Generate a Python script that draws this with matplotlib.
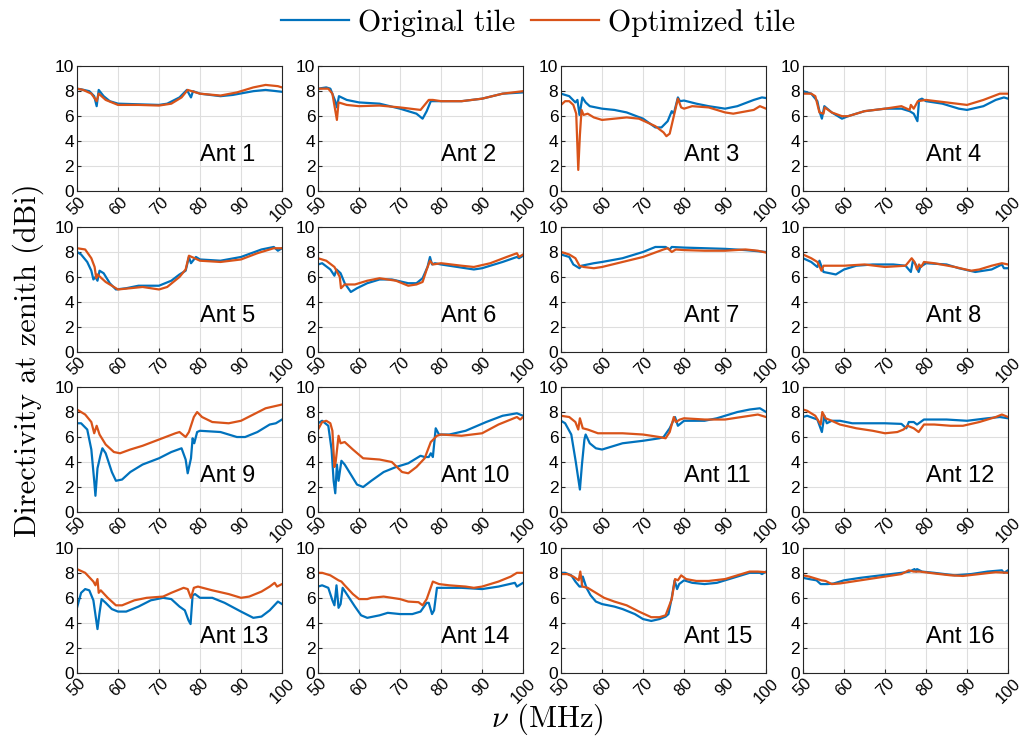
import matplotlib
matplotlib.use("Agg")
import matplotlib.pyplot as plt
from matplotlib.transforms import ScaledTranslation

plt.rcParams['font.family'] = ['Liberation Sans', 'DejaVu Sans']
plt.rcParams['mathtext.fontset'] = 'cm'

# (frequency MHz, directivity dBi)
orig_01 = [(50, 8.2), (51, 8.15), (53, 8.0), (54.2, 7.6), (54.8, 6.8), (55.3, 8.1), (56.5, 7.6), (58, 7.2), (60, 7.0), (65, 6.95), (70, 6.9), (72, 7.0), (75, 7.5), (76.8, 8.1), (77.8, 7.5), (78.3, 8.0), (80, 7.8), (85, 7.6), (88, 7.7), (93, 8.0), (96, 8.1), (100, 7.95)]
opt_01 = [(50, 8.2), (51.5, 8.1), (53.5, 7.8), (54.8, 7.2), (55.3, 7.8), (57, 7.3), (60, 6.9), (65, 6.9), (70, 6.85), (73, 7.0), (75.5, 7.5), (77, 8.1), (78, 8.0), (80, 7.8), (85, 7.65), (89, 7.9), (93, 8.3), (96, 8.5), (99, 8.4), (100, 8.3)]
orig_02 = [(50, 8.2), (52, 8.3), (53, 8.2), (54.2, 7.2), (54.6, 6.7), (55.1, 7.6), (57, 7.3), (60, 7.1), (65, 7.0), (70, 6.6), (74, 6.2), (75.5, 5.8), (76.5, 6.4), (77.5, 7.2), (80, 7.2), (85, 7.2), (90, 7.4), (95, 7.8), (100, 7.9)]
opt_02 = [(50, 8.2), (52.5, 8.2), (53.5, 7.8), (54.6, 5.7), (55, 7.1), (57, 6.9), (60, 6.8), (65, 6.85), (70, 6.7), (75, 6.5), (77, 7.3), (78, 7.3), (80, 7.2), (85, 7.2), (90, 7.4), (95, 7.8), (100, 8.0)]
orig_03 = [(50, 7.8), (52, 7.6), (53.5, 7.1), (54, 7.3), (54.5, 6.1), (55.2, 7.5), (56, 7.1), (57, 6.8), (60, 6.6), (63, 6.5), (66, 6.3), (70, 5.8), (73, 5.1), (74.5, 5.1), (76, 5.6), (77, 6.4), (77.5, 6.2), (78.5, 7.5), (79, 7.2), (80, 7.25), (83, 7.0), (86, 6.8), (90, 6.6), (93, 6.8), (97, 7.3), (99, 7.5), (100, 7.45)]
opt_03 = [(50, 6.9), (51, 7.2), (52, 7.2), (53, 6.9), (53.7, 6.2), (54.2, 1.7), (54.6, 4.5), (55, 6.5), (55.5, 6.1), (56.5, 6.2), (58, 5.9), (60, 5.7), (63, 5.8), (66, 5.9), (69, 5.8), (73, 5.2), (75, 4.7), (75.7, 4.4), (76.5, 4.6), (77.5, 6.0), (78.5, 7.4), (79.3, 6.7), (80, 6.6), (82, 6.8), (86, 6.7), (90, 6.3), (92, 6.2), (97, 6.5), (98.5, 6.8), (100, 6.6)]
orig_04 = [(50, 8.0), (52, 7.8), (53.5, 7.2), (54, 6.4), (54.6, 5.8), (55.2, 6.8), (57, 6.3), (59.5, 5.8), (61, 6.0), (65, 6.4), (70, 6.6), (74, 6.6), (76, 6.4), (77, 6.2), (77.9, 5.6), (78.3, 7.3), (79, 7.4), (80, 7.2), (84, 7.0), (88, 6.6), (90, 6.5), (94, 6.8), (97, 7.3), (99, 7.5), (100, 7.4)]
opt_04 = [(50, 7.8), (52, 7.8), (53, 7.6), (54, 6.3), (55, 6.2), (55.3, 6.7), (57, 6.3), (59.5, 6.0), (61, 6.0), (65, 6.4), (70, 6.6), (74, 6.8), (76, 6.5), (76.3, 6.9), (77, 6.6), (78, 7.2), (80, 7.3), (85, 7.1), (90, 6.9), (94, 7.3), (98, 7.8), (100, 7.8)]
orig_05 = [(50, 8.0), (51, 7.8), (52.5, 7.2), (53.5, 6.5), (54, 5.8), (54.5, 6.0), (55, 5.7), (55.5, 6.5), (56.5, 6.3), (58, 5.5), (59.5, 5.0), (62, 5.1), (65, 5.3), (70, 5.3), (73, 5.7), (75, 6.2), (76.5, 6.5), (77.3, 7.6), (77.8, 7.1), (79, 7.6), (80, 7.4), (85, 7.3), (90, 7.6), (95, 8.2), (98, 8.4), (99, 8.1), (100, 8.3)]
opt_05 = [(50, 8.3), (52, 8.2), (53.5, 7.5), (54.3, 6.8), (54.7, 5.9), (55, 6.2), (57, 5.6), (59, 5.2), (60, 5.0), (63, 5.1), (66, 5.2), (70, 5.0), (72, 5.2), (75, 6.0), (76.5, 6.6), (77.3, 7.7), (78, 7.6), (80, 7.3), (85, 7.2), (90, 7.4), (94, 7.9), (98, 8.3), (100, 8.3)]
orig_06 = [(50, 7.0), (51, 7.1), (53, 6.6), (54, 6.1), (54.5, 6.6), (55.5, 6.3), (56.5, 5.5), (58, 4.8), (59.5, 5.1), (62, 5.5), (65, 5.8), (68, 5.8), (72, 5.5), (74, 5.5), (75.5, 5.9), (76.7, 6.8), (77.3, 7.6), (77.8, 7.0), (78.5, 7.1), (80, 7.0), (84, 6.8), (88, 6.6), (90, 6.7), (95, 7.2), (98.5, 7.6), (99, 7.5), (100, 7.7)]
opt_06 = [(50, 7.5), (52, 7.3), (54, 6.8), (55.3, 6.0), (55.6, 5.1), (56.5, 5.4), (59, 5.4), (62, 5.7), (65, 5.9), (69, 5.7), (72, 5.3), (74, 5.4), (75.5, 5.6), (76.5, 6.6), (77.3, 7.3), (78, 7.0), (80, 7.1), (85, 6.9), (88, 6.8), (92, 7.1), (96, 7.6), (98.5, 7.9), (99, 7.6), (100, 7.8)]
orig_07 = [(50, 7.8), (52, 7.6), (53, 7.0), (54.5, 6.7), (55, 6.9), (58, 7.1), (60, 7.2), (65, 7.5), (70, 8.0), (73, 8.4), (75.5, 8.4), (76.5, 8.2), (77, 8.4), (80, 8.35), (85, 8.3), (90, 8.25), (95, 8.15), (100, 8.0)]
opt_07 = [(50, 8.0), (52, 7.8), (53.5, 7.5), (54.5, 6.9), (55.5, 6.8), (58, 6.7), (60, 6.8), (65, 7.2), (70, 7.6), (75, 8.2), (76, 8.3), (77, 8.0), (78, 8.2), (80, 8.15), (85, 8.1), (90, 8.1), (95, 8.2), (98, 8.1), (100, 7.95)]
orig_08 = [(50, 7.5), (52, 7.2), (53.5, 6.8), (54, 7.3), (55, 6.4), (56.5, 6.3), (58, 6.2), (60, 6.6), (63, 6.9), (67, 7.0), (72, 7.0), (75, 6.9), (76.3, 6.4), (76.8, 7.3), (77.5, 7.0), (78.2, 6.4), (78.6, 6.8), (80, 7.1), (85, 7.0), (88, 6.7), (92, 6.4), (96, 6.6), (98.5, 7.0), (99, 6.7), (100, 6.7)]
opt_08 = [(50, 7.8), (52, 7.5), (53.5, 7.2), (54.5, 6.5), (55, 6.9), (60, 6.9), (65, 7.0), (70, 6.8), (75, 6.9), (76.5, 7.5), (77.2, 7.2), (77.8, 6.6), (78.3, 7.0), (78.8, 6.8), (79.5, 7.2), (82, 7.1), (87, 6.8), (91, 6.5), (93, 6.6), (96, 6.9), (98.5, 7.1), (100, 7.0)]
orig_09 = [(50, 7.1), (51, 7.1), (52.5, 6.6), (53.5, 5.0), (54.2, 2.5), (54.5, 1.3), (55, 3.5), (55.7, 4.5), (56.2, 5.1), (57, 4.7), (58.5, 3.2), (59.5, 2.5), (61, 2.6), (63, 3.2), (66, 3.8), (70, 4.3), (73, 4.8), (75.5, 5.1), (76.5, 4.2), (77, 3.1), (77.8, 4.3), (78.2, 5.9), (78.6, 5.5), (79.3, 6.4), (80, 6.5), (85, 6.4), (89, 6.0), (91, 6.0), (94, 6.4), (97, 7.0), (98.5, 7.1), (100, 7.4)]
opt_09 = [(50, 8.2), (52, 7.8), (53.5, 7.2), (54.2, 6.3), (54.8, 6.9), (55.5, 6.2), (57, 5.4), (59, 4.8), (60.5, 4.7), (63, 5.0), (66, 5.3), (70, 5.8), (74, 6.3), (75, 6.4), (76.5, 6.0), (77.3, 6.4), (78.5, 7.6), (79.3, 8.0), (80.5, 7.6), (83, 7.2), (87, 7.1), (90, 7.3), (93, 7.8), (96, 8.3), (100, 8.6)]
orig_10 = [(50, 7.1), (51, 7.3), (52.5, 6.9), (53.3, 5.0), (53.8, 2.5), (54.2, 1.5), (54.6, 3.8), (55, 2.5), (55.7, 4.1), (56.5, 3.8), (58, 3.0), (59.5, 2.2), (61, 2.0), (63, 2.5), (66, 3.2), (69, 3.6), (72, 3.9), (75, 4.5), (76, 4.4), (77, 4.4), (77.5, 4.7), (78, 4.4), (78.7, 6.7), (79.5, 6.2), (82, 6.2), (86, 6.5), (91, 7.2), (95, 7.7), (98.5, 7.9), (100, 7.7)]
opt_10 = [(50, 6.6), (51, 7.2), (52, 7.3), (53, 7.1), (53.5, 6.5), (54, 3.6), (54.3, 4.0), (55, 6.1), (55.5, 5.5), (56.5, 5.6), (58.5, 5.0), (61, 4.3), (65, 4.2), (68, 4.0), (70.5, 3.2), (72, 3.1), (74, 3.6), (76, 4.3), (77.5, 5.6), (79, 6.1), (80, 6.2), (85, 6.1), (90, 6.3), (94, 7.0), (98.5, 7.6), (99.3, 7.4), (100, 7.6)]
orig_11 = [(50, 7.3), (51, 7.1), (52.5, 6.2), (53.6, 4.0), (54.6, 1.8), (55.1, 3.8), (55.7, 5.8), (56, 6.2), (57, 5.5), (58.5, 5.1), (60, 5.0), (62, 5.2), (65, 5.5), (70, 5.7), (74, 5.9), (75, 6.0), (76.5, 6.7), (77.8, 7.6), (78.5, 6.9), (80, 7.3), (85, 7.3), (88, 7.5), (93, 8.0), (96, 8.2), (98.5, 8.3), (100, 8.0)]
opt_11 = [(50, 7.7), (52, 7.6), (53.5, 7.2), (54.2, 6.6), (54.6, 7.5), (55.3, 6.7), (56.5, 6.6), (59, 6.3), (62, 6.3), (65, 6.3), (70, 6.2), (74, 6.0), (75.5, 5.9), (76.5, 6.4), (77.5, 7.6), (78, 7.2), (79, 7.4), (80, 7.5), (85, 7.4), (90, 7.4), (96, 7.7), (98, 7.8), (100, 7.6)]
orig_12 = [(50, 7.6), (51, 7.7), (53.5, 7.4), (54.6, 6.4), (55.2, 7.7), (55.8, 7.1), (57, 7.3), (59, 7.3), (62, 7.1), (70, 7.1), (74, 7.05), (75.2, 6.7), (75.8, 7.2), (77, 7.2), (77.8, 7.0), (79.5, 7.4), (85, 7.4), (90, 7.3), (95, 7.5), (98, 7.6), (100, 7.5)]
opt_12 = [(50, 8.2), (51, 8.1), (53, 7.7), (54.3, 7.0), (54.7, 8.0), (55.5, 7.5), (57, 7.3), (59, 7.0), (63, 6.7), (67, 6.5), (70, 6.3), (73, 6.4), (74.5, 6.6), (75.5, 6.9), (77, 6.7), (78.2, 6.4), (79.5, 7.0), (82, 7.0), (86, 6.9), (89, 6.9), (93, 7.2), (97, 7.6), (98.5, 7.8), (100, 7.6)]
orig_13 = [(50, 5.2), (51, 6.4), (52, 6.7), (53, 6.6), (54, 5.8), (55, 3.5), (55.5, 4.8), (56, 5.9), (57, 5.6), (58.5, 5.1), (60, 4.9), (62, 4.9), (65, 5.3), (68, 5.8), (71, 6.0), (73, 5.9), (75, 5.3), (76.3, 5.0), (77.2, 4.2), (77.7, 3.9), (78.2, 6.2), (78.8, 6.3), (80, 6.0), (83, 6.0), (86, 5.6), (90, 4.9), (93, 4.4), (95, 4.5), (97, 5.0), (99, 5.7), (100, 5.5)]
opt_13 = [(50, 8.3), (52, 8.0), (54, 7.3), (54.5, 7.0), (55, 7.5), (55.3, 6.4), (55.8, 6.6), (57.5, 6.0), (59.5, 5.4), (61, 5.4), (64, 5.8), (67, 6.0), (71, 6.1), (73, 6.4), (76, 6.8), (77, 6.7), (77.8, 6.0), (78.5, 6.8), (79.5, 6.9), (83, 6.6), (87, 6.3), (90, 6.0), (92, 6.1), (95, 6.5), (97, 6.9), (98.2, 7.2), (98.8, 6.9), (100, 7.1)]
orig_14 = [(50, 6.9), (51, 7.0), (52.5, 6.8), (53.5, 5.8), (54, 5.4), (54.5, 7.0), (55, 5.2), (55.5, 5.5), (56, 6.8), (57, 6.3), (59, 5.3), (60.5, 4.6), (62, 4.4), (65, 4.6), (67, 4.8), (70, 4.7), (73, 4.7), (75, 4.9), (76.5, 5.6), (77, 5.6), (77.8, 4.7), (78.3, 5.0), (79, 6.8), (82, 6.8), (85, 6.8), (90, 6.7), (94, 6.9), (98, 7.2), (98.5, 6.9), (100, 7.2)]
opt_14 = [(50, 8.0), (51, 8.0), (53, 7.8), (55, 7.4), (55.7, 7.3), (56.5, 7.0), (58.5, 6.3), (60, 5.9), (62, 5.9), (63, 6.0), (66, 6.1), (70, 5.9), (72, 5.7), (74.5, 5.65), (75.5, 5.4), (76.5, 5.9), (78, 7.3), (79.5, 7.1), (82, 7.0), (86, 6.9), (88, 6.8), (90, 6.9), (94, 7.3), (97, 7.7), (98.5, 8.0), (100, 8.0)]
orig_15 = [(50, 8.0), (51, 8.0), (52.5, 7.8), (53.5, 7.3), (54.5, 6.9), (55, 6.9), (55.3, 7.7), (56.2, 6.8), (57.2, 6.2), (58.5, 5.7), (60, 5.5), (63, 5.3), (65, 5.1), (68, 4.7), (70, 4.3), (72, 4.15), (74, 4.3), (75.5, 4.5), (76.2, 4.7), (77, 6.0), (77.7, 7.4), (78.3, 6.7), (78.8, 7.1), (80, 7.4), (82, 7.2), (85, 7.1), (88, 7.2), (92, 7.6), (96, 8.0), (98.5, 8.0), (99, 7.9), (100, 8.1)]
opt_15 = [(50, 7.9), (51.5, 7.9), (53, 7.7), (54.3, 7.4), (54.7, 8.1), (55.2, 6.9), (56.5, 6.8), (58.5, 6.4), (60.5, 6.0), (63, 5.7), (66, 5.4), (69, 4.9), (72, 4.45), (74, 4.45), (75.5, 4.6), (77, 5.9), (77.8, 7.5), (78.5, 7.4), (79.3, 7.8), (80.5, 7.5), (83, 7.35), (86, 7.35), (90, 7.5), (93, 7.8), (96, 8.1), (98, 8.1), (100, 8.05)]
orig_16 = [(50, 7.6), (51.5, 7.5), (53.3, 7.4), (54.3, 7.1), (56, 7.1), (57.5, 7.15), (60, 7.4), (64, 7.6), (69, 7.8), (74, 8.0), (76, 8.1), (77.2, 8.3), (77.6, 8.1), (77.8, 8.3), (79, 8.1), (82, 8.0), (87, 7.8), (91, 7.9), (95, 8.1), (98.5, 8.2), (99, 8.0), (100, 8.2)]
opt_16 = [(50, 7.8), (51.5, 7.7), (53.5, 7.5), (54.5, 7.4), (55.5, 7.35), (57, 7.1), (59, 7.15), (62, 7.3), (66, 7.5), (70, 7.7), (74, 7.9), (75.8, 8.2), (77, 8.1), (78.5, 8.1), (82, 7.95), (86, 7.8), (89, 7.75), (93, 7.9), (97, 8.05), (100, 8.0)]

originals = [orig_01, orig_02, orig_03, orig_04, orig_05, orig_06, orig_07, orig_08,
             orig_09, orig_10, orig_11, orig_12, orig_13, orig_14, orig_15, orig_16]
optimized = [opt_01, opt_02, opt_03, opt_04, opt_05, opt_06, opt_07, opt_08,
             opt_09, opt_10, opt_11, opt_12, opt_13, opt_14, opt_15, opt_16]
ant_labels = ['Ant %d' % (i + 1) for i in range(16)]
x_ticks = [50, 60, 70, 80, 90, 100]
y_ticks = [0, 2, 4, 6, 8, 10]

blue = '#0072BD'
orange = '#D95319'

fig = plt.figure(figsize=(10.21, 7.41), dpi=100)

lefts = [0.0754, 0.3115, 0.5495, 0.7865]
bottoms = [0.742, 0.525, 0.309, 0.092]
w, h = 0.2008, 0.1687
shift = ScaledTranslation(-7 / 100, 0, fig.dpi_scale_trans)

for i in range(16):
    r, c = divmod(i, 4)
    ax = fig.add_axes([lefts[c], bottoms[r], w, h])
    fo, do = zip(*originals[i])
    fp, dp = zip(*optimized[i])
    l1, = ax.plot(fo, do, color=blue, lw=1.6, label='Original tile')
    l2, = ax.plot(fp, dp, color=orange, lw=1.6, label='Optimized tile')
    ax.set_xlim(50, 100)
    ax.set_ylim(0, 10)
    ax.set_xticks(x_ticks)
    ax.set_yticks(y_ticks)
    ax.set_xticklabels([str(t) for t in x_ticks], rotation=45, ha='center',
                       va='top')
    for lab in ax.get_xticklabels():
        lab.set_transform(lab.get_transform() + shift)
    ax.tick_params(direction='in', length=3, labelsize=12, colors='#262626',
                   labelcolor='black', pad=2)
    ax.tick_params(axis='y', labelsize=12.5)
    ax.grid(True, color='#dedede', lw=0.8)
    ax.set_axisbelow(True)
    for s in ax.spines.values():
        s.set_color('#262626')
        s.set_linewidth(0.8)
    ax.text(80, 2.9, ant_labels[i], fontsize=17, ha='left', va='center')

fig.legend([l1, l2], ['Original tile', 'Optimized tile'], loc='center',
           bbox_to_anchor=(0.527, 0.969), ncol=2, frameon=False,
           prop={'family': 'cmr10', 'size': 21.5}, handlelength=2.3,
           handletextpad=0.3, columnspacing=0.5)

fig.text(0.028, 0.514, 'Directivity at zenith (dBi)', rotation=90,
         ha='center', va='center', fontsize=22, family='cmr10')
fig.text(0.536, 0.03, r'$\nu$ (MHz)', ha='center', va='center',
         fontsize=22, family='cmr10')

fig.savefig('out.png', dpi=100)
